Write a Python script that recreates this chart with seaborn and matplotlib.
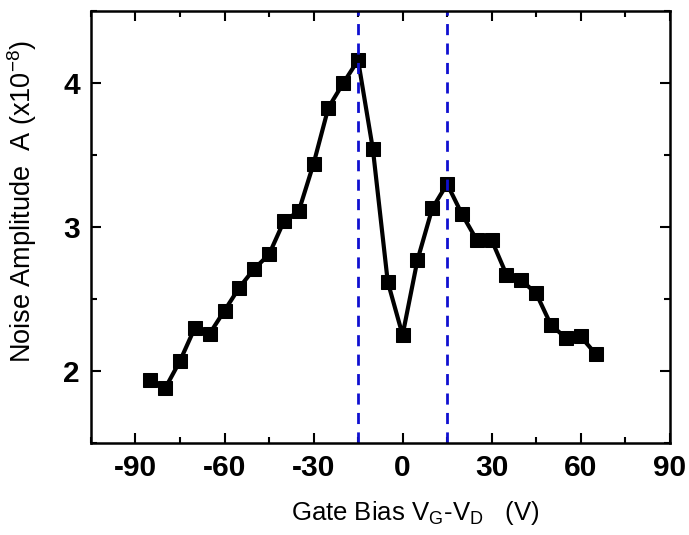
import matplotlib
matplotlib.use("Agg")
import matplotlib.pyplot as plt
import seaborn as sns
import pandas as pd
from matplotlib.ticker import MultipleLocator

gate_bias = [-85, -80, -75, -70, -65, -60, -55, -50, -45, -40, -35, -30, -25, -20, -15,
             -10, -5, 0, 5, 10, 15, 20, 25, 30, 35, 40, 45, 50, 55, 60, 65]
noise_amp = [1.94, 1.88, 2.07, 2.30, 2.26, 2.42, 2.58, 2.71, 2.81, 3.04, 3.11, 3.44, 3.83, 4.00, 4.16,
             3.54, 2.62, 2.25, 2.77, 3.13, 3.30, 3.09, 2.91, 2.91, 2.67, 2.63, 2.54, 2.32, 2.23, 2.24, 2.12]
vlines_x = [-15, 15]
x_ticks = [-90, -60, -30, 0, 30, 60, 90]
y_ticks = [2, 3, 4]

df = pd.DataFrame({"x": gate_bias, "y": noise_amp})

sns.set_style("ticks")
plt.rcParams["font.family"] = ["Liberation Sans", "DejaVu Sans"]
plt.rcParams["axes.unicode_minus"] = False
plt.rcParams["text.color"] = "black"
plt.rcParams["axes.labelcolor"] = "black"
plt.rcParams["xtick.color"] = "black"
plt.rcParams["ytick.color"] = "black"
plt.rcParams["axes.edgecolor"] = "black"

fig = plt.figure(figsize=(6.89, 5.35), dpi=100)
ax = fig.add_axes([0.132, 0.172, 0.840, 0.807])

sns.lineplot(data=df, x="x", y="y", ax=ax, color="black", linewidth=3,
             marker="s", markersize=9.5, markeredgecolor="black", markerfacecolor="black")
for xv in vlines_x:
    ax.axvline(xv, color="#1010d0", linestyle=(0, (4, 3)), linewidth=2)

ax.set_xlim(-105, 90)
ax.set_ylim(1.5, 4.5)
ax.set_xticks(x_ticks)
ax.set_yticks(y_ticks)
ax.xaxis.set_minor_locator(MultipleLocator(15))
ax.yaxis.set_minor_locator(MultipleLocator(0.5))
ax.tick_params(which="both", direction="in", top=True, right=True, width=1.5, colors="black")
ax.tick_params(which="major", length=7, labelsize=21.5, pad=8)
ax.tick_params(which="minor", length=4)
for lab in ax.get_xticklabels() + ax.get_yticklabels():
    lab.set_fontweight("bold")
for sp in ax.spines.values():
    sp.set_linewidth(1.8)
    sp.set_color("black")

ax.set_xlabel("Gate Bias V$_\\mathregular{G}$-V$_\\mathregular{D}$   (V)", fontsize=18.5, color="black")
ax.set_ylabel("Noise Amplitude  A (x10$^\\mathregular{-8}$)", fontsize=19.5, color="black")
ax.xaxis.set_label_coords(0.56, -0.13)
ax.yaxis.set_label_coords(-0.09, 0.56)

fig.savefig("out.png", dpi=100)
